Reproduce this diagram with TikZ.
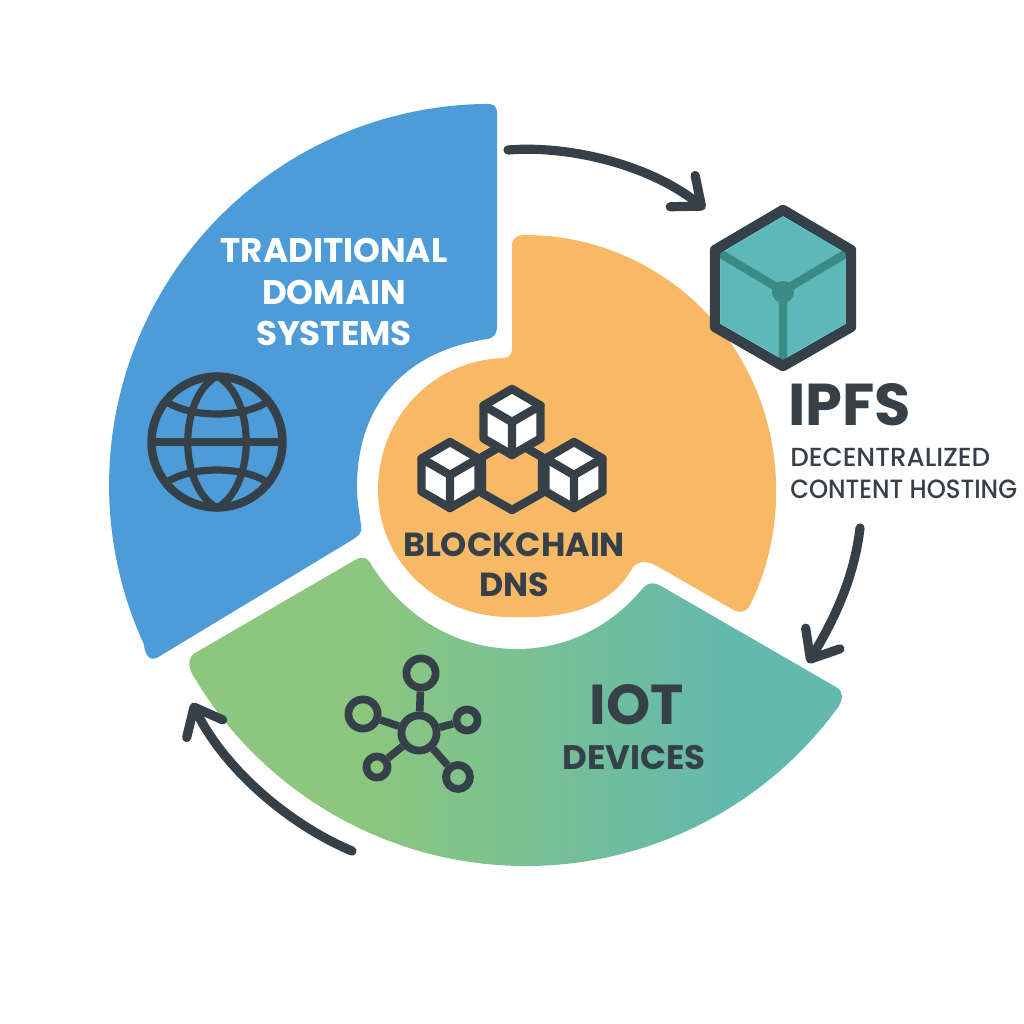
\documentclass[tikz,border=0pt]{standalone}
\usepackage{fontspec}
\usepackage{tikz}
\usetikzlibrary{arrows.meta}
\setmainfont{Poppins}
\newfontfamily\medfont{Poppins Medium}
\newfontfamily\narrowfont{Poppins Medium}[FakeStretch=0.92]
\definecolor{ink}{RGB}{53,64,73}
\definecolor{tradblue}{RGB}{77,156,216}
\definecolor{chainorange}{RGB}{248,185,102}
\definecolor{cubeteal}{RGB}{95,184,184}
\definecolor{cubeline}{RGB}{58,138,133}
\definecolor{cubeedge}{RGB}{112,224,216}
\pgfdeclarehorizontalshading{iotfade}{100bp}{rgb(0bp)=(.55,.78,.49); rgb(38bp)=(.55,.78,.49); rgb(66bp)=(.39,.725,.68); rgb(100bp)=(.39,.725,.68)}

\begin{document}
\begin{tikzpicture}[x=0.25mm,y=-0.25mm,>={Straight Barb[round,length=6mm,width=10mm]},line cap=round,line join=round]
  \tikzstyle{flow}=[->,draw=ink,line width=2.3mm]
  \tikzstyle{icon}=[draw=ink,line width=2.1mm]
  \tikzstyle{thin icon}=[draw=ink,line width=1.8mm]
  \tikzstyle{hub}=[circle,draw=ink,line width=1.95mm,inner sep=0pt]
  \tikzstyle{label}=[font=\bfseries\fontsize{24.3}{29.8}\selectfont,align=center,inner sep=0pt,text=ink]
  \useasboundingbox (0,0) rectangle (1024,1024);

  % the three sectors
  \fill[tradblue] (484,104) .. controls (355.4,106) and (236.4,172.9) .. (167.8,281.7)
    .. controls (99.2,390.5) and (90.1,526.7) .. (143.6,643.6)
    .. controls (146,660) and (152,661) .. (160,656) -- (352,540)
    .. controls (362,534) and (362,530) .. (361,525)
    .. controls (359,510) and (357,500) .. (357,487)
    .. controls (357,400) and (410,350) .. (488,339)
    .. controls (495,337) and (497,333) .. (497,326) -- (497,113)
    .. controls (497,105) and (492,103) .. (484,104) -- cycle;
  \fill[chainorange] (525,235) .. controls (614.3,235) and (696.8,282.7) .. (741.5,360)
    .. controls (786.2,437.3) and (786.2,532.7) .. (750,605)
    .. controls (745,614) and (738,613) .. (730,608) -- (657,566)
    .. controls (648,561) and (640,560) .. (633,567)
    .. controls (606,616) and (550,618) .. (510,617)
    .. controls (435,617) and (378,560) .. (378,490)
    .. controls (378,420) and (430,360) .. (505,358)
    .. controls (510,357) and (512,354) .. (512,348) -- (512,246)
    .. controls (512,238) and (517,235) .. (525,235) -- cycle;
  \shade[shading=iotfade] (838.3,706.9) .. controls (761.5,812.6) and (636.3,872.3) .. (505.8,865.5)
    .. controls (375.3,858.7) and (257.1,786.2) .. (191.7,673)
    .. controls (188,664) and (188,658) .. (195,653) -- (355,560)
    .. controls (362,556) and (368,557) .. (372,566)
    .. controls (410,625) and (465,649) .. (517,649)
    .. controls (565,649) and (610,628) .. (643,588)
    .. controls (649,582) and (654,582) .. (661,586) -- (836,687)
    .. controls (844,692) and (843,699) .. (838.3,706.9) -- cycle;

  % globe
  \begin{scope}[shift={(217,442)}]
    \draw[icon] (0,0) circle [radius=65.5];
    \draw[thin icon] (0,-66) .. controls (-39,-44) and (-39,44) .. (0,66)
      .. controls (39,44) and (39,-44) .. (0,-66);
    \draw[thin icon] (-64,0) -- (64,0);
    \draw[thin icon] (-50,-40) .. controls (-25,-24) and (25,-24) .. (50,-40);
    \draw[thin icon] (-50,40) .. controls (-25,24) and (25,24) .. (50,40);
  \end{scope}

  % blockchain cubes
  \draw[icon] (512,440) -- (542,457) -- (542,493) -- (512,510) -- (482,493) -- (482,457) -- cycle;
  \foreach \cx/\cy in {512/422,450/475,574/475} {
    \begin{scope}[shift={(\cx,\cy)}]
      \draw[icon,fill=white] (0,-33) -- (28.5,-16.5) -- (28.5,16.5) -- (0,33) -- (-28.5,16.5) -- (-28.5,-16.5) -- cycle;
      \draw[icon] (-28.5,-16.5) -- (0,0) -- (28.5,-16.5) (0,0) -- (0,33);
    \end{scope}
  }

  % ipfs cube
  \fill[cubeteal] (783,210) -- (851,250) -- (851,327) -- (783,366) -- (715,327) -- (715,250) -- cycle;
  \draw[draw=cubeedge,line width=0.3mm] (783,216) -- (846,253) -- (846,324) -- (783,360) -- (720,324) -- (720,253) -- cycle;
  \draw[draw=cubeline,line width=2.1mm,line cap=butt] (716,251) -- (783,291) -- (850,251) (783,291) -- (783,364);
  \fill[cubeline] (783,292) circle [radius=11];
  \draw[draw=ink,line width=2.6mm] (783,210) -- (851,250) -- (851,327) -- (783,366) -- (715,327) -- (715,250) -- cycle;

  % iot network
  \node [hub,minimum size=8.8mm] (core) at (419,733) {};
  \node [hub,minimum size=7.3mm] (north) at (421,673) {};
  \node [hub,minimum size=7.3mm] (west) at (363,714) {};
  \node [hub,minimum size=5.3mm] (east) at (467,720) {};
  \node [hub,minimum size=5.3mm] (southwest) at (377,767) {};
  \node [hub,minimum size=6mm] (southeast) at (458,777) {};
  \path (core) edge[thin icon,line width=1.9mm,line cap=butt] (north)
               edge[thin icon,line width=1.9mm,line cap=butt] (west)
               edge[thin icon,line width=1.9mm,line cap=butt] (east)
               edge[thin icon,line width=1.9mm,line cap=butt] (southwest)
               edge[thin icon,line width=1.9mm,line cap=butt] (southeast);

  % labels
  \node [label,text=white] (trad) at (334,292) {TRADITIONAL\\DOMAIN\\SYSTEMS};
  \node [label,font=\bfseries\fontsize{23.7}{28.4}\selectfont] (chain) at (514,565) {BLOCKCHAIN\\DNS};
  \node [label,font=\bfseries\fontsize{40}{40}\selectfont] (iot) at (637,705) {IOT};
  \node [label,font=\bfseries\fontsize{24.2}{24.2}\selectfont] (devices) at (634,757) {DEVICES};
  \node [label,anchor=west,font=\bfseries\fontsize{42}{42}\selectfont] (ipfs) at (788,405) {IPFS};
  \node [label,anchor=west,font=\medfont\fontsize{18.6}{18.6}\selectfont] (dec) at (790,457) {DECENTRALIZED};
  \node [label,anchor=west,font=\narrowfont\fontsize{18.8}{18.8}\selectfont] (host) at (790,489) {CONTENT HOSTING};

  % cycle arrows
  \coordinate (a1) at (508,150);
  \coordinate (a2) at (705,209);
  \coordinate (b1) at (860,528);
  \coordinate (b2) at (808,663);
  \coordinate (c1) at (352,851);
  \coordinate (c2) at (192,703);
  \draw[flow] (a1) .. controls (570,145) and (650,165) .. (a2);
  \draw[flow] (b1) .. controls (855,570) and (840,610) .. (b2);
  \draw[flow] (c1) .. controls (290,825) and (225,770) .. (c2);
\end{tikzpicture}
\end{document}
